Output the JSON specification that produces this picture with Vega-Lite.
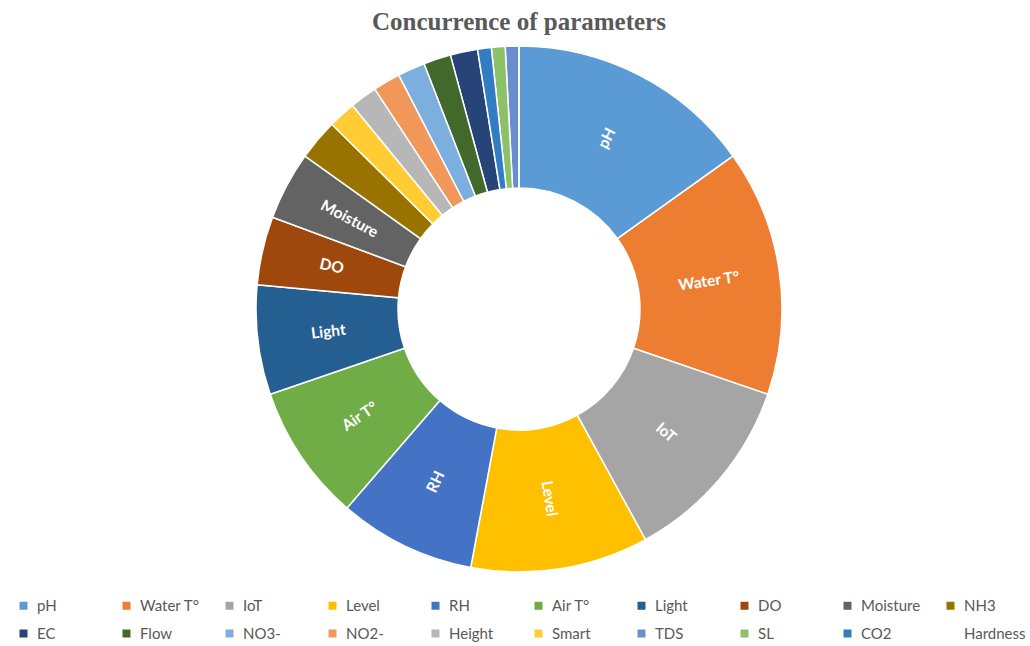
{
  "$schema": "https://vega.github.io/schema/vega-lite/v6.json",
  "width": 1006,
  "height": 530,
  "padding": {"left": 16, "right": 8, "top": 10, "bottom": 0},
  "background": "white",
  "title": {
    "text": "Concurrence of parameters",
    "font": "Liberation Serif",
    "fontSize": 25,
    "fontWeight": "bold",
    "color": "#595959",
    "anchor": "middle",
    "offset": 8
  },
  "data": {
    "values": [
      {"parameter": "pH", "count": 18, "slice": 1},
      {"parameter": "Water T°", "count": 18, "slice": 2},
      {"parameter": "IoT", "count": 14, "slice": 3},
      {"parameter": "Level", "count": 13, "slice": 4},
      {"parameter": "RH", "count": 10, "slice": 5},
      {"parameter": "Air T°", "count": 10, "slice": 6},
      {"parameter": "Light", "count": 8, "slice": 7},
      {"parameter": "DO", "count": 5, "slice": 8},
      {"parameter": "Moisture", "count": 5, "slice": 9},
      {"parameter": "NH3", "count": 3, "slice": 10},
      {"parameter": "EC", "count": 2, "slice": 16},
      {"parameter": "Flow", "count": 2, "slice": 15},
      {"parameter": "NO3-", "count": 2, "slice": 14},
      {"parameter": "NO2-", "count": 2, "slice": 13},
      {"parameter": "Height", "count": 2, "slice": 12},
      {"parameter": "Smart", "count": 2, "slice": 11},
      {"parameter": "TDS", "count": 1, "slice": 19},
      {"parameter": "SL", "count": 1, "slice": 18},
      {"parameter": "CO2", "count": 1, "slice": 17},
      {"parameter": "Hardness", "count": 0, "slice": 20}
    ]
  },
  "transform": [
    {"stack": "count", "groupby": [], "sort": [{"field": "slice", "order": "ascending"}], "as": ["c0", "c1"]},
    {"joinaggregate": [{"op": "sum", "field": "count", "as": "total"}]},
    {"calculate": "(datum.c0 + datum.c1) / 2", "as": "mid"},
    {"calculate": "datum.mid / datum.total * 360", "as": "midDeg"},
    {"calculate": "datum.midDeg < 180 ? datum.midDeg - 90 : datum.midDeg - 270", "as": "labelAngle"}
  ],
  "layer": [
    {
      "mark": {"type": "arc", "outerRadius": 263, "innerRadius": 121, "stroke": "white", "strokeWidth": 1.5},
      "encoding": {
        "theta": {"field": "c0", "type": "quantitative", "scale": {"nice": false, "zero": true}},
        "theta2": {"field": "c1"},
        "color": {
          "field": "parameter",
          "type": "nominal",
          "scale": {
            "domain": ["pH", "Water T°", "IoT", "Level", "RH", "Air T°", "Light", "DO", "Moisture", "NH3", "EC", "Flow", "NO3-", "NO2-", "Height", "Smart", "TDS", "SL", "CO2", "Hardness"],
            "range": ["#5B9BD5", "#ED7D31", "#A5A5A5", "#FFC000", "#4472C4", "#70AD47", "#255E91", "#9E480E", "#636363", "#997300", "#264478", "#43682B", "#7CAFDD", "#F1975A", "#B7B7B7", "#FFCD33", "#698ED0", "#8CC168", "#327DC2", "#FFFFFF"]
          },
          "legend": {
            "title": null,
            "orient": "bottom",
            "direction": "horizontal",
            "columns": 10,
            "gridAlign": "all",
            "symbolType": "square",
            "symbolSize": 64,
            "symbolStrokeWidth": 0,
            "labelFont": "Lato",
            "labelFontSize": 15,
            "labelColor": "#595959",
            "labelOffset": 6,
            "columnPadding": 20,
            "rowPadding": 12,
            "offset": 24
          }
        }
      }
    },
    {
      "transform": [{"filter": "datum.count >= 5"}],
      "mark": {"type": "text", "radius": 192, "color": "white", "font": "Lato", "fontWeight": "bold", "fontSize": 15.5, "align": "center", "baseline": "middle"},
      "encoding": {
        "theta": {"field": "mid", "type": "quantitative"},
        "text": {"field": "parameter", "type": "nominal"},
        "angle": {"field": "labelAngle", "type": "quantitative", "scale": null}
      }
    }
  ],
  "config": {"view": {"stroke": null}}
}
